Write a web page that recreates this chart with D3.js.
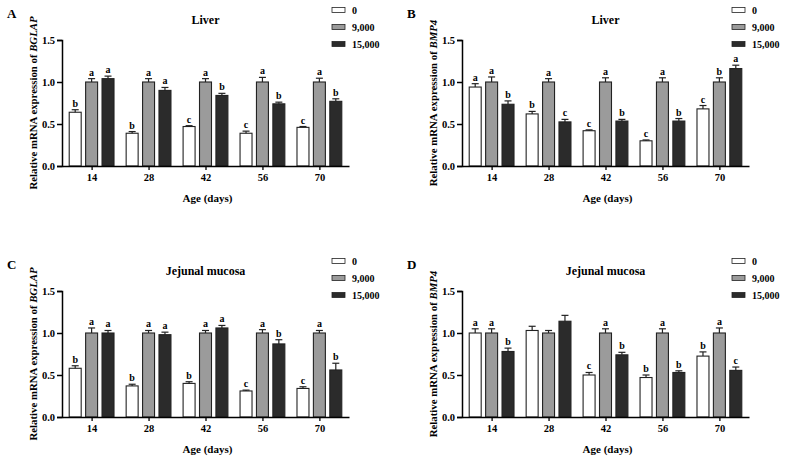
<!DOCTYPE html>
<html>
<head>
<meta charset="utf-8">
<script src="https://cdn.jsdelivr.net/npm/d3@7"></script>
<style>
  body { margin: 0; background: #fff; }
  svg { display: block; font-family: "Liberation Serif", "Times New Roman", serif; font-weight: bold; }
</style>
</head>
<body>
<div id="chart"></div>
<script>
// ages on x axis, dietary groups as series
const ages = ['14', '28', '42', '56', '70'];
const groups = ['0', '9,000', '15,000'];
const yTicks = [0, 0.5, 1.0, 1.5];

// A: BGLAP, liver
const bglapLiverMean = [[0.64, 0.39, 0.47, 0.39, 0.46], [1, 1, 1, 1, 1], [1.04, 0.90, 0.84, 0.74, 0.77]];
const bglapLiverSem = [[0.03, 0.02, 0.01, 0.025, 0.01], [0.04, 0.04, 0.04, 0.055, 0.045], [0.03, 0.035, 0.025, 0.02, 0.03]];
const bglapLiverLetters = [['b', 'b', 'c', 'c', 'c'], ['a', 'a', 'a', 'a', 'a'], ['a', 'a', 'b', 'b', 'b']];

// B: BMP4, liver
const bmp4LiverMean = [[0.94, 0.62, 0.42, 0.30, 0.68], [1, 1, 1, 1, 1], [0.735, 0.525, 0.535, 0.535, 1.16]];
const bmp4LiverSem = [[0.04, 0.03, 0.01, 0.01, 0.04], [0.06, 0.04, 0.05, 0.05, 0.05], [0.04, 0.03, 0.02, 0.03, 0.04]];
const bmp4LiverLetters = [['a', 'b', 'c', 'c', 'c'], ['a', 'a', 'a', 'a', 'b'], ['b', 'c', 'b', 'b', 'a']];

// C: BGLAP, jejunal mucosa
const bglapJejMean = [[0.58, 0.37, 0.40, 0.31, 0.34], [1, 1, 1, 1, 1], [1.0, 0.98, 1.06, 0.87, 0.56]];
const bglapJejSem = [[0.03, 0.02, 0.02, 0.01, 0.02], [0.06, 0.03, 0.03, 0.04, 0.03], [0.03, 0.03, 0.03, 0.05, 0.08]];
const bglapJejLetters = [['b', 'b', 'b', 'c', 'c'], ['a', 'a', 'a', 'a', 'a'], ['a', 'a', 'a', 'b', 'b']];

// D: BMP4, jejunal mucosa
const bmp4JejMean = [[1.0, 1.03, 0.50, 0.47, 0.725], [1, 1, 1, 1, 1], [0.78, 1.14, 0.74, 0.53, 0.555]];
const bmp4JejSem = [[0.05, 0.05, 0.03, 0.03, 0.05], [0.05, 0.03, 0.05, 0.05, 0.06], [0.04, 0.07, 0.03, 0.02, 0.04]];
const bmp4JejLetters = [['a', '', 'c', 'b', 'b'], ['a', '', 'a', 'a', 'a'], ['b', '', 'b', 'b', 'c']];

const fills = ['#ffffff', '#9b9b9b', '#2b2b2b'];

const panels = [
  { tag: 'A', tissue: 'Liver', gene: 'BGLAP', mean: bglapLiverMean, sem: bglapLiverSem, letters: bglapLiverLetters, left: 62, top: 40 },
  { tag: 'B', tissue: 'Liver', gene: 'BMP4', mean: bmp4LiverMean, sem: bmp4LiverSem, letters: bmp4LiverLetters, left: 462, top: 40 },
  { tag: 'C', tissue: 'Jejunal mucosa', gene: 'BGLAP', mean: bglapJejMean, sem: bglapJejSem, letters: bglapJejLetters, left: 62, top: 291 },
  { tag: 'D', tissue: 'Jejunal mucosa', gene: 'BMP4', mean: bmp4JejMean, sem: bmp4JejSem, letters: bmp4JejLetters, left: 462, top: 291 }
];

const W = 788, H = 461;
const pw = 287, ph = 126;

const svg = d3.select('#chart').append('svg')
  .attr('width', W).attr('height', H);

svg.append('rect').attr('width', W).attr('height', H).attr('fill', '#fff');

const drawPanel = (p) => {
  const g = svg.append('g').attr('transform', 'translate(' + p.left + ',' + p.top + ')');

  const x = d3.scalePoint().domain(ages).range([0, pw]).padding(0.52);
  const x1 = d3.scaleBand().domain(groups).range([-22.4, 22.4]).paddingInner(0.27).paddingOuter(0);
  const y = d3.scaleLinear().domain([0, 1.5]).range([ph, 0]);

  // bars
  groups.forEach((grp, gi) => {
    const rows = ages.map((a, ai) => ({ age: a, v: p.mean[gi][ai], e: p.sem[gi][ai], l: p.letters[gi][ai] }));
    const gg = g.append('g');
    gg.selectAll('rect').data(rows).enter().append('rect')
      .attr('x', d => x(d.age) + x1(grp))
      .attr('y', d => y(d.v))
      .attr('width', x1.bandwidth())
      .attr('height', d => y(0) - y(d.v))
      .attr('fill', fills[gi])
      .attr('stroke', '#222')
      .attr('stroke-width', 1.1);

    // error bars (upper only)
    const cx = d => x(d.age) + x1(grp) + x1.bandwidth() / 2;
    gg.selectAll('line.err').data(rows).enter().append('line')
      .attr('class', 'err')
      .attr('x1', cx).attr('x2', cx)
      .attr('y1', d => y(d.v)).attr('y2', d => y(d.v + d.e))
      .attr('stroke', '#222').attr('stroke-width', 1.2);
    gg.selectAll('line.cap').data(rows).enter().append('line')
      .attr('class', 'cap')
      .attr('x1', d => cx(d) - 3.5).attr('x2', d => cx(d) + 3.5)
      .attr('y1', d => y(d.v + d.e)).attr('y2', d => y(d.v + d.e))
      .attr('stroke', '#222').attr('stroke-width', 1.2);

    gg.selectAll('text').data(rows).enter().append('text')
      .attr('x', cx)
      .attr('y', d => y(d.v + d.e) - 3)
      .attr('text-anchor', 'middle')
      .attr('font-size', 10)
      .attr('fill', '#000')
      .text(d => d.l);
  });

  // axes
  const ya = g.append('g').call(d3.axisLeft(y).tickValues(yTicks).tickFormat(d3.format('.1f')).tickSize(5).tickPadding(2));
  ya.select('.domain').attr('stroke-width', 1.5);
  ya.selectAll('.tick line').attr('stroke-width', 1.5);
  ya.selectAll('text').attr('font-size', 10.5).attr('font-family', 'Liberation Serif').attr('font-weight', 'bold');

  const xa = g.append('g').attr('transform', 'translate(0,' + ph + ')')
    .call(d3.axisBottom(x).tickSize(4).tickPadding(4).tickSizeOuter(0));
  xa.select('.domain').attr('stroke-width', 1.5);
  xa.selectAll('.tick line').attr('stroke-width', 1.3);
  xa.selectAll('text').attr('font-size', 10.5).attr('font-family', 'Liberation Serif').attr('font-weight', 'bold');

  // x title
  g.append('text')
    .attr('x', pw / 2 + 2).attr('y', ph + 36)
    .attr('text-anchor', 'middle').attr('font-size', 11)
    .text('Age (days)');

  // y title
  const yt = g.append('text')
    .attr('transform', 'translate(-25,' + (ph / 2) + ') rotate(-90)')
    .attr('text-anchor', 'middle').attr('font-size', 10.8);
  yt.append('tspan').text('Relative mRNA expression of ');
  yt.append('tspan').attr('font-style', 'italic').text(p.gene);

  // panel title
  g.append('text')
    .attr('x', pw / 2).attr('y', -16)
    .attr('text-anchor', 'middle').attr('font-size', 12)
    .text(p.tissue);

  // panel letter
  svg.append('text')
    .attr('x', p.left - 55).attr('y', p.top - 22)
    .attr('font-size', 13)
    .text(p.tag);

  // legend
  const lg = g.append('g').attr('transform', 'translate(270,-30)');
  groups.forEach((grp, gi) => {
    lg.append('rect')
      .attr('x', 0).attr('y', gi * 17 - 2.5)
      .attr('width', 13).attr('height', 5)
      .attr('fill', fills[gi]).attr('stroke', '#222').attr('stroke-width', 0.8);
    lg.append('text')
      .attr('x', 20).attr('y', gi * 17 + 3.5)
      .attr('font-size', 10)
      .text(grp);
  });
};

panels.forEach(drawPanel);
</script>
</body>
</html>
